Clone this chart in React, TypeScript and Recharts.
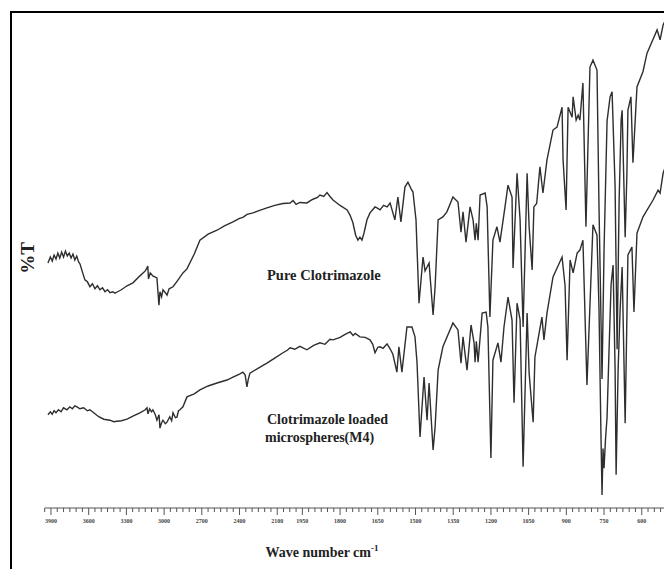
import { LineChart, Line, XAxis, YAxis, ReferenceLine } from "recharts";

// FTIR %T traces, wavenumber (cm-1) vs transmittance (arbitrary offset units)
const pureWn = [
  3924, 3905, 3890, 3875, 3860, 3845, 3830, 3815, 3800, 3785, 3770, 3755, 3740, 3725, 3710, 3695, 3680, 3669,
  3650, 3630, 3610, 3590, 3570, 3550, 3530, 3510, 3490, 3470, 3450, 3430, 3407, 3391, 3370, 3340, 3295, 3248,
  3192, 3150, 3136, 3130, 3124, 3110, 3090, 3057, 3041, 3033, 3020, 3009, 2990, 2977, 2960, 2929, 2900, 2850,
  2818, 2760, 2715, 2650, 2579, 2520, 2452, 2400, 2373, 2340, 2293, 2240, 2182, 2120, 2054, 1999, 1987, 1975,
  1960, 1932, 1910, 1890, 1880, 1865, 1852, 1840, 1828, 1800, 1772, 1760, 1749, 1738, 1729, 1721, 1713, 1705,
  1693, 1681, 1661, 1653, 1641, 1627, 1613, 1601, 1582, 1570, 1558, 1542, 1530, 1518, 1510, 1498, 1486, 1470,
  1462, 1454, 1446, 1430, 1422, 1410, 1391, 1375, 1351, 1331, 1319, 1311, 1299, 1283, 1271, 1263, 1258, 1251,
  1243, 1223, 1215, 1204, 1192, 1176, 1164, 1144, 1132, 1116, 1112, 1096, 1084, 1072, 1056, 1048, 1036, 1029,
  1018, 1005, 993, 977, 953, 937, 917, 913, 901, 893, 877, 873, 861, 853, 846, 834, 822, 806, 794, 778, 770,
  758, 750, 738, 726, 718, 706, 698, 690, 682, 678, 666, 659, 655, 643, 635, 619, 595, 579, 555, 539, 527, 515,
  505,
];
const pureT = [
  49.4, 50.6, 49.8, 51.0, 50.2, 51.4, 50.4, 51.6, 50.6, 51.8, 50.8, 51.4, 50.4, 51.2, 50.0, 50.8, 49.6, 49.2,
  47.6, 46.0, 45.6, 44.6, 45.2, 44.2, 44.8, 44.0, 44.4, 43.6, 44.0, 43.4, 43.6, 43.3, 43.6, 44.0, 44.8, 45.4,
  46.8, 47.8, 48.4, 48.8, 46.2, 47.4, 46.8, 46.4, 40.9, 43.6, 42.6, 44.0, 43.4, 42.9, 44.2, 44.6, 45.6, 47.4,
  48.2, 51.2, 54.0, 55.2, 56.0, 56.9, 57.7, 58.4, 58.6, 59.2, 59.5, 60.0, 60.5, 61.0, 61.4, 61.5, 62.0, 61.2,
  61.6, 61.5, 62.2, 62.6, 63.1, 62.8, 63.6, 62.8, 62.1, 61.0, 60.1, 59.0, 57.5, 55.0, 54.0, 54.6, 54.0, 55.4,
  58.1, 59.5, 60.7, 60.5, 60.1, 61.0, 60.7, 61.5, 58.1, 62.7, 57.7, 64.7, 65.7, 64.4, 63.7, 58.1, 41.3, 50.6,
  47.8, 48.6, 49.4, 38.9, 44.6, 58.1, 58.7, 59.7, 62.7, 61.7, 55.6, 59.7, 53.6, 60.7, 58.1, 54.0, 57.4, 54.0,
  63.1, 63.5, 60.7, 38.5, 54.0, 56.7, 53.6, 60.7, 65.1, 62.7, 48.4, 67.5, 58.1, 36.5, 67.5, 56.7, 48.0, 60.7,
  61.4, 68.8, 63.5, 70.2, 76.2, 76.8, 80.8, 70.2, 60.1, 80.8, 78.8, 82.9, 78.2, 79.2, 78.2, 85.7, 56.7, 88.9,
  90.3, 88.3, 60.7, 26.0, 52.0, 78.0, 82.9, 83.9, 64.7, 32.0, 62.0, 78.2, 80.2, 54.6, 67.5, 80.2, 82.9, 69.6,
  84.9, 88.0, 91.7, 94.5, 96.4, 94.4, 97.4, 98.4,
];

const loadedWn = [
  3924, 3905, 3890, 3875, 3860, 3840, 3820, 3800, 3773, 3750, 3730, 3710, 3693, 3670, 3640, 3610, 3590, 3550,
  3520, 3480, 3431, 3400, 3375, 3340, 3295, 3240, 3192, 3150, 3136, 3128, 3115, 3100, 3089, 3070, 3057, 3040,
  3033, 3020, 3009, 2990, 2977, 2955, 2940, 2929, 2910, 2898, 2885, 2874, 2850, 2818, 2760, 2715, 2650, 2579,
  2500, 2452, 2400, 2373, 2355, 2341, 2330, 2317, 2250, 2182, 2120, 2054, 2020, 1999, 1980, 1960, 1932, 1905,
  1880, 1860, 1840, 1828, 1800, 1780, 1760, 1748, 1740, 1721, 1700, 1681, 1670, 1661, 1650, 1641, 1629, 1613,
  1600, 1590, 1574, 1566, 1554, 1534, 1514, 1502, 1494, 1482, 1466, 1454, 1446, 1430, 1422, 1410, 1391, 1351,
  1331, 1319, 1311, 1295, 1279, 1267, 1263, 1258, 1251, 1235, 1219, 1212, 1200, 1192, 1172, 1160, 1148, 1132,
  1116, 1108, 1096, 1084, 1072, 1056, 1048, 1032, 1025, 1013, 997, 989, 977, 953, 917, 905, 897, 885, 873, 857,
  846, 834, 818, 794, 778, 770, 762, 758, 754, 750, 744, 738, 730, 722, 714, 706, 702, 694, 686, 678, 666, 655,
  639, 631, 619, 595, 555, 535, 527, 515, 505,
];
const loadedT = [
  18.8, 19.4, 18.9, 19.6, 19.2, 19.8, 19.4, 20.2, 19.8, 20.4, 20.0, 20.6, 20.4, 20.0, 20.2, 19.6, 19.8, 19.0,
  18.4, 17.9, 17.7, 17.4, 17.5, 17.6, 17.9, 18.6, 19.2, 19.8, 20.2, 19.0, 20.0, 19.4, 19.8, 18.8, 17.7, 18.8,
  16.1, 17.2, 17.7, 17.0, 17.3, 18.4, 17.6, 19.2, 18.2, 18.3, 19.6, 19.8, 20.4, 22.4, 23.0, 23.8, 24.6, 25.2,
  25.8, 26.4, 27.0, 27.4, 26.8, 24.4, 26.0, 27.2, 28.2, 29.2, 30.2, 31.3, 31.8, 32.3, 32.0, 32.6, 31.9, 32.8,
  33.3, 33.0, 34.0, 33.9, 34.4, 35.0, 35.5, 34.8, 35.2, 34.5, 34.4, 33.9, 33.0, 31.3, 32.4, 32.5, 32.2, 33.1,
  32.0, 31.0, 27.4, 32.5, 27.4, 36.5, 36.5, 34.5, 29.4, 14.3, 26.4, 17.7, 25.2, 11.7, 16.3, 27.8, 32.5, 37.3,
  35.9, 29.2, 34.5, 27.8, 36.9, 33.3, 29.4, 33.6, 29.4, 39.3, 39.5, 36.5, 10.1, 29.8, 33.3, 29.4, 36.5, 42.5,
  37.9, 21.2, 41.3, 38.0, 8.3, 39.3, 27.2, 17.3, 30.4, 33.9, 38.5, 33.9, 39.3, 46.6, 50.6, 44.8, 29.8, 50.0,
  47.4, 51.4, 52.0, 54.0, 24.8, 57.1, 55.0, 40.0, 14.0, 2.6, 12.0, 8.0, 14.0, 18.3, 32.0, 45.0, 49.0, 28.0,
  6.7, 28.0, 40.0, 48.6, 17.1, 51.0, 52.6, 39.5, 55.4, 58.7, 62.1, 64.1, 63.5, 67.5, 69.0,
];

const majorWn = [3900, 3600, 3300, 3000, 2700, 2400, 2100, 1950, 1800, 1650, 1500, 1350, 1200, 1050, 900, 750, 600];

// spectrometer scale is doubled below 2000 cm-1
const pos = (w: number) => (w >= 2000 ? 3900 - w : 1900 + 2 * (2000 - w));
const wnAt = (u: number) => (u <= 1900 ? 3900 - u : 2000 - (u - 1900) / 2);

const tickWn: number[] = [];
for (let w = 3950; w >= 2000; w -= 50) tickWn.push(w);
for (let w = 1975; w >= 525; w -= 25) tickWn.push(w);

const pureData = pureWn.map((w, i) => ({ w, t: pureT[i] }));
const loadedData = loadedWn.map((w, i) => ({ w, t: loadedT[i] }));

const SERIF = "'Liberation Serif', 'Times New Roman', serif";
const INK = "#2e2e2e";

function WaveTick({ x, y, payload }: any) {
  const w = Math.round(wnAt(payload.value));
  const major = majorWn.includes(w);
  return (
    <g>
      <line x1={x} y1={y} x2={x} y2={y + (major ? 7 : 4)} stroke="#555" strokeWidth={1} />
      {major && (
        <text x={x} y={y + 15} textAnchor="middle" fontSize={6} fontWeight="bold" fill="#444" fontFamily={SERIF}>
          {w}
        </text>
      )}
    </g>
  );
}

export default function App() {
  return (
    <div style={{ position: "absolute", left: 0, top: 0, width: 664, height: 569, overflow: "hidden", background: "#fff" }}>
      <LineChart width={664} height={569} margin={{ top: 12, right: 0, left: 12, bottom: 31 }}>
        <XAxis
          type="number"
          dataKey={(d: any) => pos(d.w)}
          domain={[-310, 4877]}
          allowDataOverflow
          ticks={tickWn.map(pos)}
          interval={0}
          tick={<WaveTick />}
          tickLine={false}
          axisLine={false}
          tickSize={0}
          tickMargin={0}
          height={30}
        />
        <YAxis type="number" domain={[0, 100]} hide />
        <ReferenceLine
          segment={[
            { x: pos(3950), y: 0 },
            { x: 4877, y: 0 },
          ]}
          stroke="#555"
          strokeWidth={1}
        />
        <Line data={pureData} dataKey="t" type="linear" stroke={INK} strokeWidth={1.4} dot={false} isAnimationActive={false} />
        <Line data={loadedData} dataKey="t" type="linear" stroke={INK} strokeWidth={1.4} dot={false} isAnimationActive={false} />
      </LineChart>
      <svg width={664} height={569} style={{ position: "absolute", left: 0, top: 0, pointerEvents: "none" }}>
        <line x1={11} y1={11} x2={11} y2={569} stroke="#000" strokeWidth={2} />
        <line x1={10} y1={12} x2={664} y2={12} stroke="#000" strokeWidth={2} />
        <text x={27} y={258} transform="rotate(-90 27 258)" textAnchor="middle" dominantBaseline="central"
          fontSize={19} fontWeight="bold" fontFamily={SERIF} fill="#222">
          %T
        </text>
        <text x={267} y={280} fontSize={14.5} fontWeight="bold" fontFamily={SERIF} fill="#222">
          Pure Clotrimazole
        </text>
        <text x={267} y={424} fontSize={14} fontWeight="bold" fontFamily={SERIF} fill="#222">
          Clotrimazole loaded
        </text>
        <text x={265} y={442} fontSize={14} fontWeight="bold" fontFamily={SERIF} fill="#222">
          microspheres(M4)
        </text>
        <text x={322} y={557} textAnchor="middle" fontSize={14} fontWeight="bold" fontFamily={SERIF} fill="#222">
          Wave number cm<tspan fontSize={9} dy={-6}>-1</tspan>
        </text>
      </svg>
    </div>
  );
}
